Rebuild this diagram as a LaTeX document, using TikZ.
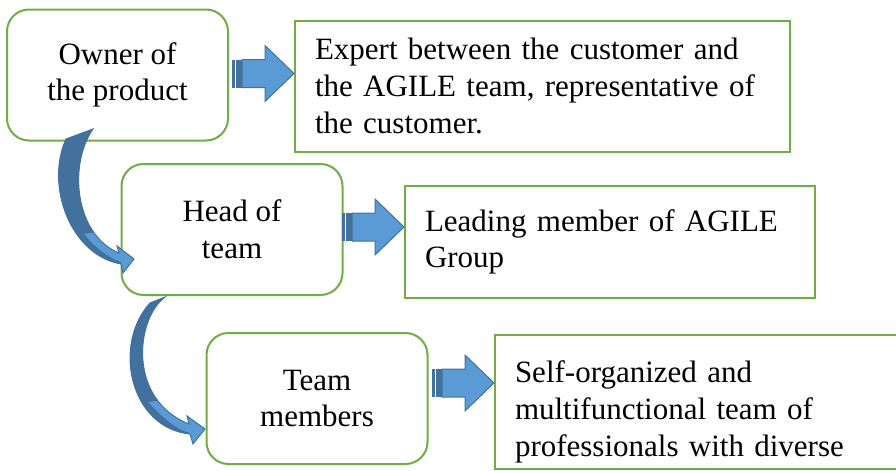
\documentclass[tikz,border=0pt]{standalone}
\usepackage{fontspec}
\setmainfont{Liberation Serif}
\usetikzlibrary{calc}
\definecolor{boxgreen}{HTML}{70AD47}
\definecolor{arrowblue}{HTML}{5B9BD5}
\definecolor{arrowdark}{HTML}{41719C}
\tikzset{
	boxfont/.style={font=\fontsize{15.5}{18.3}\selectfont},
	rolebox/.style={draw=boxgreen,line width=1pt,rounded corners=11pt,minimum width=110.5pt,minimum height=65.5pt,align=center,boxfont},
	dutybox/.style={draw=boxgreen,line width=1pt,inner xsep=10pt,align=left,boxfont},
	stripe arrow/.pic={
		\fill[arrowdark] (-62,-14) rectangle (-59,14);
		\fill[arrowdark] (-58,-14) rectangle (-52,14);
		\filldraw[fill=arrowblue,draw=arrowdark,line width=0.5pt] (-52,-14) -- (-29,-14) -- (-29,-28) -- (0,0) -- (-29,28) -- (-29,14) -- (-52,14) -- cycle;
	}
}
% curved arrows, pixel coordinates
\def\bendone{(66,139) -- (93,129) .. controls (68,165) and (75,235) .. (119,253) -- (117,246) -- (134,259) -- (123,273) -- (121,264) .. controls (70,255) and (45,185) .. (66,139) -- cycle}
\def\bendtwo{(150,303) -- (165,297) .. controls (135,320) and (128,400) .. (189,424) -- (187,416) -- (205,429) -- (193,444) -- (190,434) .. controls (130,428) and (112,345) .. (150,303) -- cycle}
\begin{document}
\begin{tikzpicture}[x=0.5pt,y=-0.5pt]
	\useasboundingbox (0,0) rectangle (896,471);
	\clip (0,0) rectangle (896,471);
	% roles
	\node[rolebox] (owner) at (117.5,75) {Owner of\\the product};
	\node[rolebox] (head) at (232,229.5) {Head of\\team};
	\node[rolebox] (members) at (317,398.5) {Team\\members};
	% duties
	\node[dutybox,text width=227.5pt,minimum height=65.5pt] (ownerduty) at (542.5,86) {Expert between the customer and\\the AGILE team, representative of\\the customer.};
	\node[dutybox,text width=185pt,minimum height=56pt] (headduty) at (610,242) {Leading member of AGILE\\Group};
	\node[dutybox,text width=240pt,inner ysep=13pt,text depth=30pt,anchor=north west] (membersduty) at (494,334) {Self-organized and\\multifunctional team of\\professionals with diverse};
	% straight arrows
	\pic at ([yshift=0.75pt]owner.east -| ownerduty.west) {stripe arrow};
	\pic at ([yshift=1.25pt]head.east -| headduty.west) {stripe arrow};
	\pic at ([yshift=7.75pt]members.east -| membersduty.west) {stripe arrow};
	% curved arrows
	\fill[arrowdark] \bendone;
	\begin{scope}
		\clip \bendone;
		\fill[arrowblue] (84,234) .. controls (98,250) and (108,257) .. (121,262) -- (121,290) -- (140,290) -- (140,225) -- cycle;
	\end{scope}
	\draw[arrowdark,line width=0.5pt] \bendone;
	\fill[arrowdark] \bendtwo;
	\begin{scope}
		\clip \bendtwo;
		\fill[arrowblue] (148,402) .. controls (165,420) and (178,430) .. (190,433) -- (190,460) -- (210,460) -- (210,395) -- cycle;
	\end{scope}
	\draw[arrowdark,line width=0.5pt] \bendtwo;
\end{tikzpicture}
\end{document}
